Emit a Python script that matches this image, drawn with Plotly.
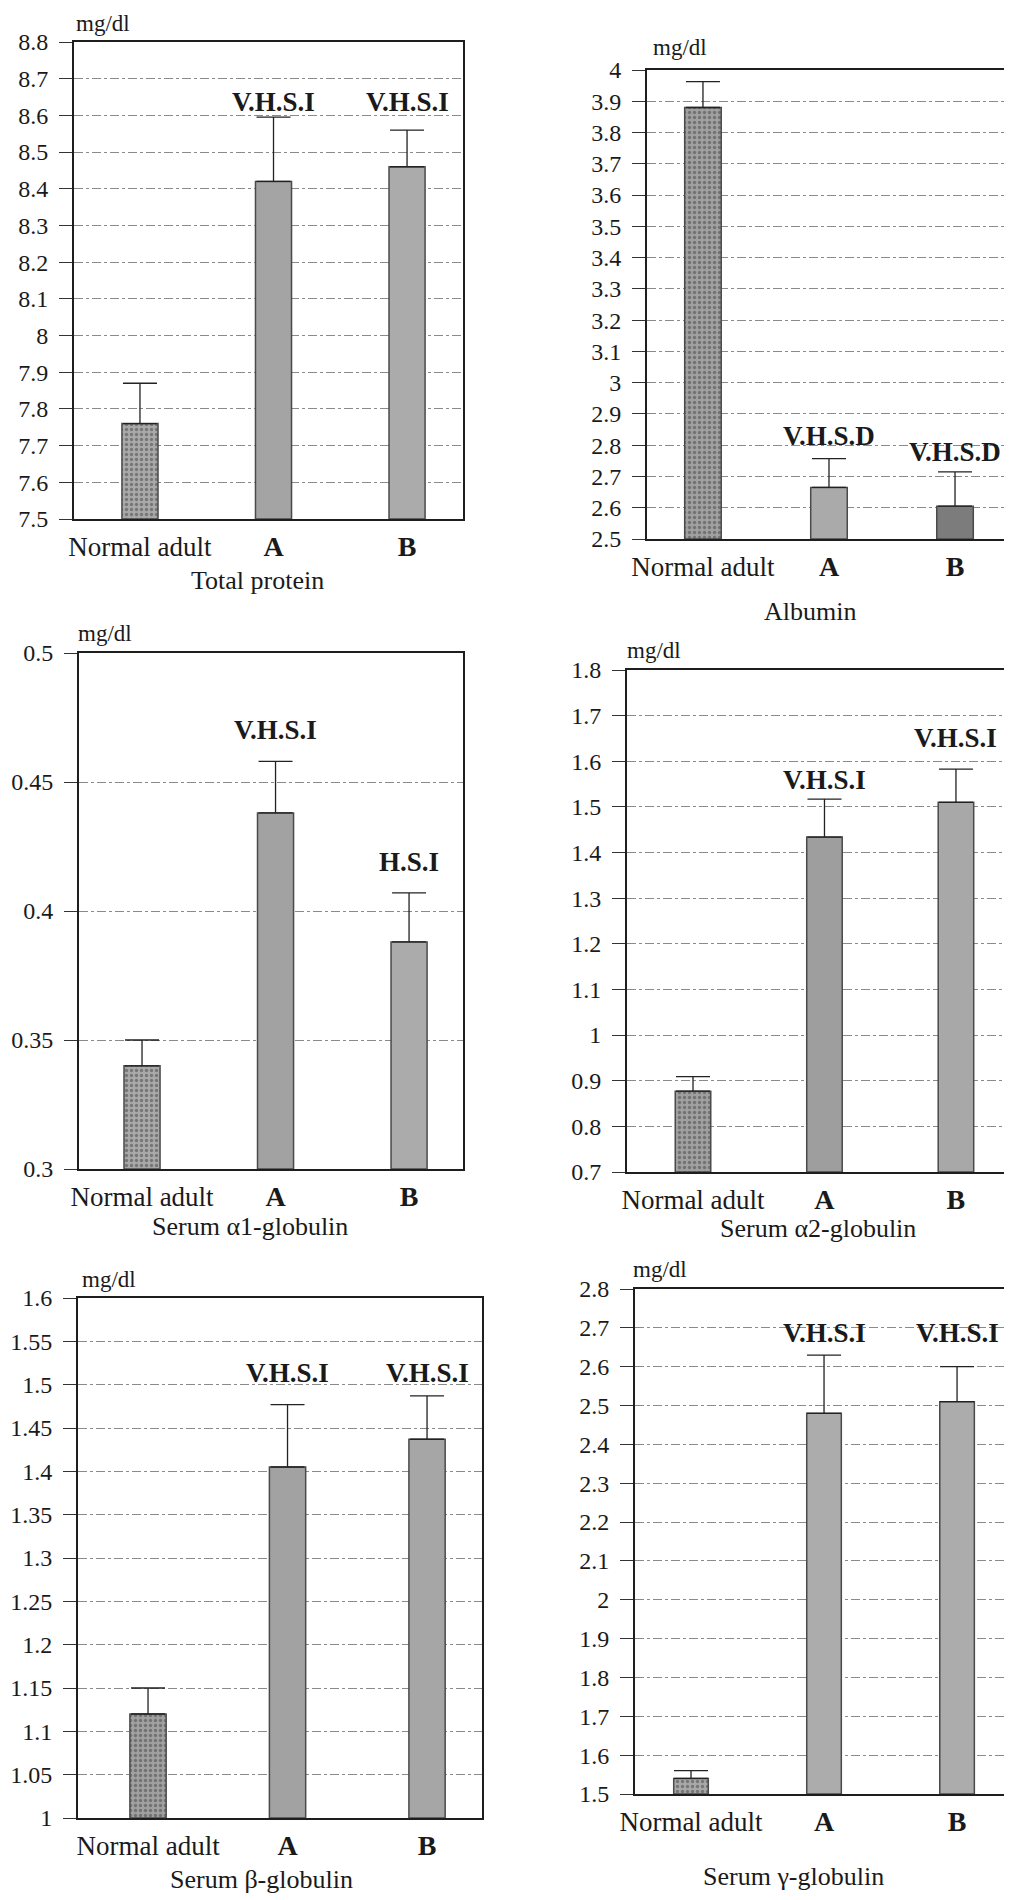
import plotly.graph_objects as go

W, H = 1012, 1900
OFF = 8  # the page's default body margin shifts the figure by 8 px

categories = ["Normal adult", "A", "B"]
cat_ticktext = ["<span style=\"font-size:27px\">Normal adult</span>",
                "<b><span style=\"font-size:28px\">A</span></b>",
                "<b><span style=\"font-size:28px\">B</span></b>"]

# values (mean) and upper error (SD)
total_protein_mean = [7.76, 8.42, 8.46]
total_protein_sd = [0.11, 0.175, 0.10]
albumin_mean = [3.88, 2.665, 2.605]
albumin_sd = [0.083, 0.092, 0.11]
alpha1_mean = [0.340, 0.438, 0.388]
alpha1_sd = [0.010, 0.020, 0.019]
alpha2_mean = [0.877, 1.434, 1.51]
alpha2_sd = [0.032, 0.083, 0.073]
beta_mean = [1.12, 1.405, 1.437]
beta_sd = [0.030, 0.072, 0.050]
gamma_mean = [1.54, 2.48, 2.51]
gamma_sd = [0.020, 0.150, 0.090]

total_protein_sig = ["", "V.H.S.I", "V.H.S.I"]
albumin_sig = ["", "V.H.S.D", "V.H.S.D"]
alpha1_sig = ["", "V.H.S.I", "H.S.I"]
alpha2_sig = ["", "V.H.S.I", "V.H.S.I"]
beta_sig = ["", "V.H.S.I", "V.H.S.I"]
gamma_sig = ["", "V.H.S.I", "V.H.S.I"]

panel_titles = ["Total protein", "Albumin", "Serum α1-globulin",
                "Serum α2-globulin", "Serum β-globulin", "Serum γ-globulin"]

FONT = "Liberation Serif"

panels = [
    dict(mean=total_protein_mean, sd=total_protein_sd, sig=total_protein_sig, sig_y=[0, 8.636, 8.636],
         px=(74, 463), py=(42, 519), yr=[7.5, 8.8], dtick=0.1, xr=[-0.494, 2.419], bw=0.27,
         colors=["#a9a9a9", "#a4a4a4", "#ababab"], title_xy=(257, 580), unit_xy=(103, 23)),
    dict(mean=albumin_mean, sd=albumin_sd, sig=albumin_sig, sig_y=[0, 2.831, 2.779],
         px=(647, 1014), py=(70, 539), yr=[2.5, 4.0], dtick=0.1, xr=[-0.444, 2.468], bw=0.29,
         colors=["#a0a0a0", "#aaaaaa", "#7c7c7c"], title_xy=(810, 612), unit_xy=(680, 48)),
    dict(mean=alpha1_mean, sd=alpha1_sd, sig=alpha1_sig, sig_y=[0, 0.470, 0.419],
         px=(79, 463), py=(653, 1169), yr=[0.3, 0.5], dtick=0.05, xr=[-0.472, 2.404], bw=0.27,
         colors=["#a9a9a9", "#a2a2a2", "#ababab"], title_xy=(250, 1226), unit_xy=(105, 633)),
    dict(mean=alpha2_mean, sd=alpha2_sd, sig=alpha2_sig, sig_y=[0, 1.558, 1.650],
         px=(627, 1010), py=(670, 1172), yr=[0.7, 1.8], dtick=0.1, xr=[-0.502, 2.411], bw=0.27,
         colors=["#a0a0a0", "#9e9e9e", "#a8a8a8"], title_xy=(818, 1228), unit_xy=(654, 650)),
    dict(mean=beta_mean, sd=beta_sd, sig=beta_sig, sig_y=[0, 1.514, 1.514],
         px=(78, 482), py=(1298, 1818), yr=[1.0, 1.6], dtick=0.05, xr=[-0.502, 2.394], bw=0.26,
         colors=["#a0a0a0", "#a2a2a2", "#a6a6a6"], title_xy=(261, 1879), unit_xy=(109, 1279)),
    dict(mean=gamma_mean, sd=gamma_sd, sig=gamma_sig, sig_y=[0, 2.687, 2.687],
         px=(635, 1010), py=(1289, 1794), yr=[1.5, 2.8], dtick=0.1, xr=[-0.421, 2.398], bw=0.26,
         colors=["#a8a8a8", "#acacac", "#acacac"], title_xy=(793, 1876), unit_xy=(660, 1269)),
]


def fx(px):
    return (px - OFF) / W


def fy(py):
    return 1 - (py - OFF) / H


fig = go.Figure()
annotations = []
layout = {}

for i, p in enumerate(panels):
    n = i + 1
    xa = "x" if n == 1 else f"x{n}"
    ya = "y" if n == 1 else f"y{n}"
    fig.add_trace(go.Bar(
        x=categories, y=[m - p["yr"][0] for m in p["mean"]], base=p["yr"][0],
        width=p["bw"],
        marker=dict(color=p["colors"], line=dict(color="#4a4a4a", width=1.5),
                    pattern=dict(shape=[".", "", ""], fgcolor="#5a5a5a",
                                 bgcolor=p["colors"], size=5, solidity=0.35)),
        error_y=dict(type="data", symmetric=False, array=p["sd"],
                     arrayminus=[0, 0, 0], color="#222", thickness=1.3, width=17),
        xaxis=xa, yaxis=ya, showlegend=False, hoverinfo="skip",
    ))
    xdom = [fx(p["px"][0]), fx(p["px"][1])]
    ydom = [fy(p["py"][1]), fy(p["py"][0])]
    layout[f"xaxis{'' if n == 1 else n}"] = dict(
        domain=xdom, anchor=ya, type="category", range=p["xr"],
        tickmode="array", tickvals=categories, ticktext=cat_ticktext,
        ticks="", showgrid=False, showline=True, linecolor="#1e1e1e", linewidth=2,
        mirror=True, ticklabelstandoff=3, automargin=False,
        tickfont=dict(family=FONT, size=27, color="#1a1a1a"), fixedrange=True,
    )
    layout[f"yaxis{'' if n == 1 else n}"] = dict(
        domain=ydom, anchor=xa, range=p["yr"], dtick=p["dtick"], tick0=p["yr"][0],
        ticks="outside", ticklen=13, tickcolor="#333", tickwidth=1.2,
        showgrid=True, gridcolor="#8a8a8a", griddash="dashdot", gridwidth=1,
        showline=True, linecolor="#1e1e1e", linewidth=2, mirror=True,
        zeroline=False, ticklabelstandoff=6, automargin=False,
        tickfont=dict(family=FONT, size=24, color="#1a1a1a"), fixedrange=True,
    )
    for c, s, sy in zip(categories, p["sig"], p["sig_y"]):
        if s:
            annotations.append(dict(x=c, y=sy, xref=xa, yref=ya, text=f"<b>{s}</b>",
                                    showarrow=False, xanchor="center", yanchor="middle",
                                    font=dict(family=FONT, size=27, color="#1a1a1a")))
    annotations.append(dict(x=fx(p["title_xy"][0]), y=fy(p["title_xy"][1]),
                            xref="paper", yref="paper", text=panel_titles[i],
                            showarrow=False, xanchor="center", yanchor="middle",
                            font=dict(family=FONT, size=26, color="#1a1a1a")))
    annotations.append(dict(x=fx(p["unit_xy"][0]), y=fy(p["unit_xy"][1]),
                            xref="paper", yref="paper", text="mg/dl",
                            showarrow=False, xanchor="center", yanchor="middle",
                            font=dict(family=FONT, size=23, color="#1a1a1a")))

fig.update_layout(
    width=W, height=H, margin=dict(l=0, r=0, t=0, b=0, autoexpand=False),
    paper_bgcolor="white", plot_bgcolor="white",
    annotations=annotations, bargap=0.5,
    font=dict(family=FONT, color="#1a1a1a"),
    **layout,
)

fig.write_html("out.html")
